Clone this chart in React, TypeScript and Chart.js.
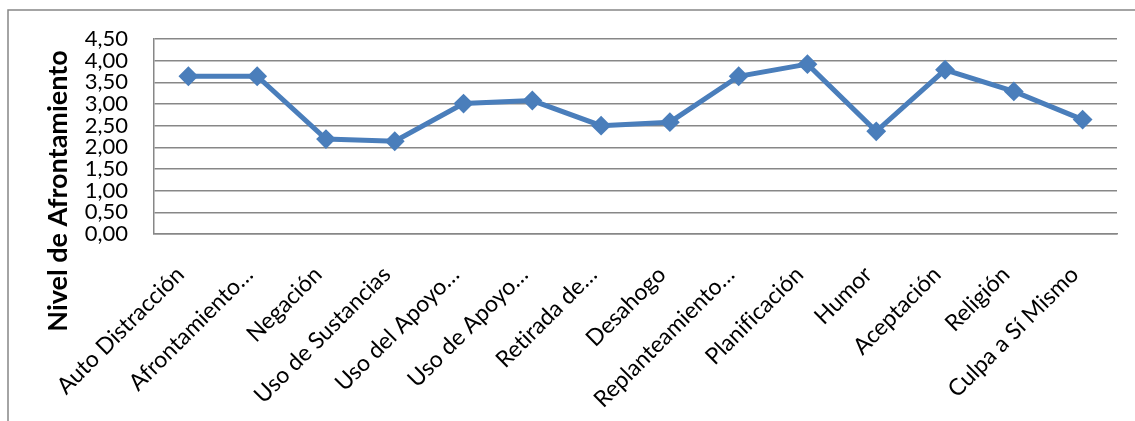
import React, { useEffect, useRef } from "react";
import { Chart, registerables } from "chart.js";

Chart.register(...registerables);

// Coping strategies (categories on the x axis)
const categories: string[] = [
  "Auto Distracción",
  "Afrontamiento…",
  "Negación",
  "Uso de Sustancias",
  "Uso del Apoyo…",
  "Uso de Apoyo…",
  "Retirada de…",
  "Desahogo",
  "Replanteamiento…",
  "Planificación",
  "Humor",
  "Aceptación",
  "Religión",
  "Culpa a Sí Mismo",
];

// Mean coping level for each strategy
const nivel: number[] = [
  3.64, 3.64, 2.19, 2.14, 3.01, 3.08, 2.5, 2.58, 3.64, 3.92, 2.37, 3.79, 3.29, 2.64,
];

// Value axis settings
const yMin = 0;
const yMax = 4.5;
const yStep = 0.5;

const yTitle = "Nivel de Afrontamiento";

const WIDTH = 1135;
const HEIGHT = 421;
const FONT = "Lato, 'Open Sans', sans-serif";
const GRID = "#878787";
const BLUE = "#4a7ebb";

// Keep "fi" as separate glyphs (no ligatures) in all canvas text
const noLigaturesPlugin = {
  id: "noLigatures",
  beforeDraw(chart: Chart) {
    const ctx: any = chart.ctx;
    ctx.textRendering = "optimizeSpeed";
    ctx.fontVariantLigatures = "none";
  },
};

// Outer frame and rotated y-axis title
const framePlugin = {
  id: "frameAndTitle",
  afterDraw(chart: Chart) {
    const ctx = chart.ctx;
    const area = chart.chartArea;
    ctx.save();
    ctx.strokeStyle = GRID;
    ctx.lineWidth = 1.5;
    ctx.beginPath();
    ctx.moveTo(8, HEIGHT);
    ctx.lineTo(8, 10);
    ctx.lineTo(WIDTH, 10);
    ctx.stroke();

    ctx.fillStyle = "#000";
    ctx.font = `bold 27px ${FONT}`;
    ctx.textAlign = "center";
    ctx.textBaseline = "middle";
    ctx.translate(58, area.top + 152);
    ctx.rotate(-Math.PI / 2);
    ctx.fillText(yTitle, 0, 0);
    ctx.restore();
  },
};

export default function App() {
  const canvasRef = useRef<HTMLCanvasElement | null>(null);

  useEffect(() => {
    const canvas = canvasRef.current;
    if (!canvas) return;
    const chart = new Chart(canvas, {
      type: "line",
      data: {
        labels: categories,
        datasets: [
          {
            label: yTitle,
            data: nivel,
            borderColor: BLUE,
            backgroundColor: BLUE,
            borderWidth: 5,
            pointStyle: "rectRot",
            pointRadius: 8.5,
            pointBorderWidth: 2,
            pointBackgroundColor: BLUE,
            pointBorderColor: BLUE,
            tension: 0,
            fill: false,
          },
        ],
      },
      options: {
        responsive: false,
        animation: false,
        devicePixelRatio: 1,
        layout: { padding: { top: 39, right: 18, left: 0, bottom: 0 } },
        plugins: {
          legend: { display: false },
          title: { display: false },
          tooltip: { enabled: false },
        },
        scales: {
          x: {
            offset: true,
            grid: { display: false, drawTicks: false },
            border: { display: true, color: GRID, width: 1.5 },
            ticks: {
              autoSkip: false,
              minRotation: 45,
              maxRotation: 45,
              padding: 27,
              labelOffset: -8,
              color: "#000",
              font: { family: FONT, size: 23 },
            },
            afterFit(scale: any) {
              scale.height = HEIGHT - 234;
            },
          },
          y: {
            min: yMin,
            max: yMax,
            grid: { color: GRID, lineWidth: 1.5, drawTicks: false },
            border: { display: true, color: GRID, width: 1.5 },
            ticks: {
              autoSkip: false,
              stepSize: yStep,
              padding: 26,
              color: "#000",
              font: { family: FONT, size: 22, lineHeight: 1 },
              callback: (v: any) => Number(v).toFixed(2).replace(".", ","),
            },
            afterFit(scale: any) {
              scale.width = 154;
            },
          },
        },
      },
      plugins: [noLigaturesPlugin, framePlugin],
    });
    return () => chart.destroy();
  }, []);

  return (
    <div style={{ position: "fixed", left: 0, top: 0, width: WIDTH, height: HEIGHT, background: "#fff" }}>
      <canvas ref={canvasRef} width={WIDTH} height={HEIGHT} style={{ display: "block" }} />
    </div>
  );
}
